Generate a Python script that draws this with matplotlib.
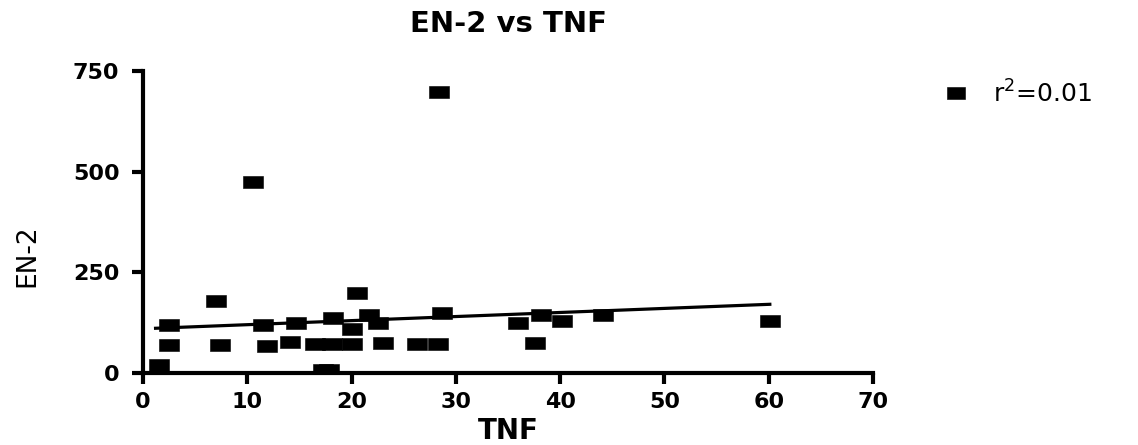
import numpy as np
import matplotlib
matplotlib.use("Agg")
import matplotlib.pyplot as plt

# values
tnf = [1.5, 2.5, 2.5, 7.0, 7.4, 10.5, 11.5, 11.9, 14.1, 14.7, 16.5, 17.3,
       17.8, 18.1, 18.2, 20.0, 20.0, 20.5, 21.7, 22.5, 23.0, 26.3, 28.3,
       28.4, 28.7, 36.0, 37.6, 38.2, 40.2, 44.1, 60.1]
en2 = [19, 120, 69, 179, 70, 474, 119, 67, 78, 125, 72, 8,
       8, 72, 137, 110, 72, 198, 145, 125, 74, 73, 73,
       699, 150, 124, 75, 144, 129, 145, 128]
xticks = [0, 10, 20, 30, 40, 50, 60, 70]
yticks = [0, 250, 500, 750]

x = np.array(tnf)
y = np.array(en2)
slope, icpt = np.polyfit(x, y, 1)
r2 = np.corrcoef(x, y)[0, 1] ** 2

rect = [(-1, -0.65), (1, -0.65), (1, 0.65), (-1, 0.65), (-1, -0.65)]

fig = plt.figure(figsize=(11.38, 4.45), dpi=100)
ax = fig.add_axes([0.1257, 0.1618, 0.6415, 0.6786])

ax.plot(x, y, linestyle="none", marker=rect, markersize=14.2, mew=0.4,
        color="black", label="r$^2$=%.2f" % r2)
xl = np.array([x.min() - 0.3, x.max()])
ax.plot(xl, icpt + slope * xl, color="black", lw=2.3)

ax.set_xlim(0, 70)
ax.set_ylim(0, 750)
ax.set_xticks(xticks)
ax.set_yticks(yticks)
for s in ["top", "right"]:
    ax.spines[s].set_visible(False)
for s in ["left", "bottom"]:
    ax.spines[s].set_linewidth(3)
ax.tick_params(width=3, length=8, labelsize=16, pad=6)
ax.tick_params(axis="y", pad=9)
for t in ax.get_xticklabels() + ax.get_yticklabels():
    t.set_fontweight("bold")

ax.set_title("EN-2 vs TNF", fontsize=21, fontweight="bold", pad=28)
ax.set_xlabel("TNF", fontsize=20, fontweight="bold", labelpad=3)
ax.set_ylabel("EN-2", fontsize=19)
ax.yaxis.set_label_coords(-0.14, 0.387)

leg = ax.legend(loc="upper left", bbox_to_anchor=(1.048, 1.045), frameon=False,
                fontsize=18, handletextpad=0.5, markerscale=0.9)

fig.savefig("out.png", dpi=100)
